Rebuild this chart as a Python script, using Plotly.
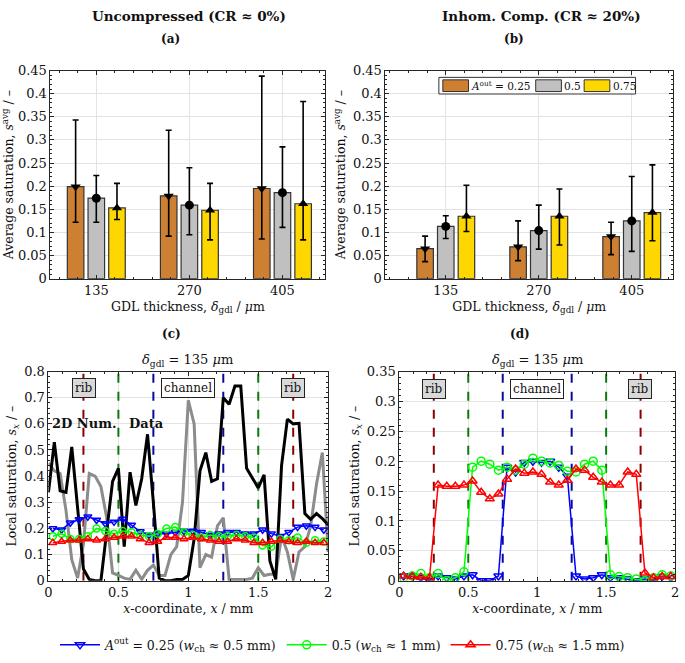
import plotly.graph_objects as go

# ---------------- data ----------------
groups = [135, 270, 405]
bar_names = ["0.25", "0.5", "0.75"]
bar_colors = ["#CD7F32", "#C0C0C0", "#FFD700"]
bar_symbols = ["triangle-down", "circle", "triangle-up"]
bar_offsets = [-30, 0, 30]

# (a) uncompressed
a_vals = [[0.199, 0.179, 0.195], [0.174, 0.159, 0.186], [0.153, 0.148, 0.162]]
a_lo = [[0.122, 0.092, 0.086], [0.122, 0.095, 0.111], [0.128, 0.084, 0.084]]
a_hi = [[0.343, 0.321, 0.438], [0.223, 0.240, 0.285], [0.206, 0.206, 0.383]]
# (b) inhomogeneous compression
b_vals = [[0.065, 0.069, 0.091], [0.113, 0.104, 0.125], [0.135, 0.135, 0.143]]
b_lo = [[0.037, 0.039, 0.052], [0.087, 0.064, 0.059], [0.102, 0.073, 0.082]]
b_hi = [[0.092, 0.125, 0.122], [0.136, 0.159, 0.221], [0.202, 0.194, 0.246]]

# (c) 2D numerical data (black, grey)
x_num = [k / 24 for k in range(49)]
black_num = [0.338, 0.53, 0.344, 0.338, 0.512, 0.28, 0.045, 0.005, 0.0, 0.0,
             0.19, 0.38, 0.43, 0.13, 0.415, 0.288, 0.39, 0.56, 0.30, 0.01,
             0.0, 0.0, 0.005, 0.005, 0.02, 0.16, 0.42, 0.49, 0.38, 0.39,
             0.70, 0.675, 0.745, 0.745, 0.43, 0.39, 0.355, 0.405, 0.076, 0.005,
             0.44, 0.618, 0.6, 0.602, 0.257, 0.235, 0.257, 0.238, 0.213]
grey_num = [0.45, 0.42, 0.41, 0.27, 0.08, 0.01, 0.14, 0.41, 0.40, 0.36,
            0.24, 0.03, 0.02, 0.01, 0.005, 0.04, 0.005, 0.04, 0.06, 0.02,
            0.02, 0.10, 0.13, 0.30, 0.69, 0.60, 0.05, 0.10, 0.09, 0.21,
            0.24, 0.005, 0.005, 0.005, 0.005, 0.01, 0.05, 0.02, 0.025, 0.025,
            0.17, 0.11, 0.005, 0.11, 0.13, 0.21, 0.37, 0.49, 0.11]

# pore-network profiles
x_pn = [0.03125 + k * 0.0625 for k in range(32)]
c_blue = [0.20, 0.195, 0.222, 0.234, 0.245, 0.232, 0.219, 0.225, 0.236, 0.213,
          0.188, 0.175, 0.18, 0.18, 0.185, 0.19, 0.19, 0.185, 0.175, 0.18,
          0.185, 0.185, 0.18, 0.18, 0.195, 0.18, 0.17, 0.185, 0.205, 0.21,
          0.205, 0.195]
c_green = [0.17, 0.18, 0.16, 0.16, 0.17, 0.20, 0.19, 0.18, 0.19, 0.185,
           0.175, 0.17, 0.18, 0.20, 0.205, 0.185, 0.175, 0.165, 0.175, 0.17,
           0.17, 0.175, 0.17, 0.165, 0.135, 0.13, 0.16, 0.155, 0.165, 0.145,
           0.155, 0.15]
c_red = [0.145, 0.15, 0.155, 0.155, 0.16, 0.155, 0.16, 0.165, 0.17, 0.17,
         0.16, 0.145, 0.15, 0.165, 0.165, 0.16, 0.165, 0.16, 0.155, 0.15,
         0.15, 0.16, 0.155, 0.145, 0.145, 0.15, 0.155, 0.15, 0.145, 0.15,
         0.145, 0.145]
d_blue = [0.008, 0.008, 0.005, 0.0, 0.008, 0.005, 0.003, 0.008, 0.01, 0.0,
          0.0, 0.008, 0.19, 0.182, 0.198, 0.2, 0.198, 0.2, 0.19, 0.175,
          0.008, 0.003, 0.005, 0.01, 0.005, 0.005, 0.003, 0.0, 0.003, 0.0,
          0.007, 0.005]
d_green = [0.005, 0.008, 0.012, 0.005, 0.012, 0.0, 0.005, 0.015, 0.19, 0.2,
           0.195, 0.185, 0.19, 0.185, 0.195, 0.205, 0.2, 0.197, 0.193, 0.183,
           0.182, 0.195, 0.2, 0.185, 0.01, 0.007, 0.005, 0.003, 0.0, 0.005,
           0.01, 0.008]
d_red = [0.008, 0.007, 0.006, 0.005, 0.16, 0.158, 0.158, 0.16, 0.167, 0.148,
         0.137, 0.145, 0.17, 0.187, 0.18, 0.182, 0.178, 0.165, 0.16, 0.168,
         0.187, 0.185, 0.173, 0.165, 0.16, 0.16, 0.182, 0.178, 0.013, 0.005,
         0.007, 0.007]

boundaries = [0.25, 0.5, 0.75, 1.25, 1.5, 1.75]
boundary_colors = ["#8B0000", "#0B7A0B", "#0A0A9A", "#0A0A9A", "#0B7A0B", "#8B0000"]

legend_labels = ["<i>A</i><sup>out</sup> = 0.25 (<i>w</i><sub>ch</sub> ≈ 0.5 mm)",
                 "0.5 (<i>w</i><sub>ch</sub> ≈ 1 mm)",
                 "0.75 (<i>w</i><sub>ch</sub> ≈ 1.5 mm)"]
line_colors = ["#0000FF", "#00FF00", "#FF0000"]
line_symbols = ["triangle-down-open", "circle-open", "triangle-up-open"]

FONT = "DejaVu Serif"
W, H = 685, 663

def px(x):
    return x / W

def py(y):
    return 1 - y / H

fig = go.Figure()

# ---------------- bars ----------------
for (vals, lo, hi, xa, ya) in [(a_vals, a_lo, a_hi, "x", "y"), (b_vals, b_lo, b_hi, "x2", "y2")]:
    for i in range(3):
        xs = [g + bar_offsets[i] for g in groups]
        fig.add_trace(go.Bar(
            x=xs, y=vals[i], width=24, xaxis=xa, yaxis=ya, showlegend=False,
            marker=dict(color=bar_colors[i], line=dict(color="#333333", width=1.2)),
            error_y=dict(type="data", symmetric=False,
                         array=[h - v for h, v in zip(hi[i], vals[i])],
                         arrayminus=[v - l for v, l in zip(vals[i], lo[i])],
                         color="black", thickness=1.6, width=3)))
        fig.add_trace(go.Scatter(
            x=xs, y=vals[i], mode="markers", xaxis=xa, yaxis=ya, showlegend=False,
            marker=dict(symbol=bar_symbols[i], color="black", size=9)))

# ---------------- boundary lines ----------------
for xa, ya, top in [("x3", "y3", 0.8), ("x4", "y4", 0.35)]:
    for b, col in zip(boundaries, boundary_colors):
        fig.add_trace(go.Scatter(x=[b, b], y=[0, top], mode="lines", xaxis=xa, yaxis=ya,
                                 showlegend=False, hoverinfo="skip",
                                 line=dict(color=col, width=2, dash="dash")))

# ---------------- (c) numerical data ----------------
fig.add_trace(go.Scatter(x=x_num, y=grey_num, mode="lines", xaxis="x3", yaxis="y3",
                         showlegend=False, line=dict(color="#8C8C8C", width=3)))
fig.add_trace(go.Scatter(x=x_num, y=black_num, mode="lines", xaxis="x3", yaxis="y3",
                         showlegend=False, line=dict(color="#000000", width=3)))

# ---------------- profiles ----------------
c_series = [c_blue, c_green, c_red]
d_series = [d_blue, d_green, d_red]
for i in range(3):
    fig.add_trace(go.Scatter(x=x_pn, y=c_series[i], mode="lines+markers", xaxis="x3", yaxis="y3",
                             showlegend=False,
                             line=dict(color=line_colors[i], width=1.5),
                             marker=dict(symbol=line_symbols[i], size=7, color=line_colors[i],
                                         line=dict(width=1.5))))
for i in range(3):
    fig.add_trace(go.Scatter(x=x_pn, y=d_series[i], mode="lines+markers", xaxis="x4", yaxis="y4",
                             name=legend_labels[i], showlegend=True,
                             line=dict(color=line_colors[i], width=1.5),
                             marker=dict(symbol=line_symbols[i], size=8, color=line_colors[i],
                                         line=dict(width=1.5))))

# ---------------- axes ----------------
axis_common = dict(showline=True, linecolor="#262626", linewidth=1, mirror="ticks",
                   ticks="inside", ticklen=4, tickcolor="#262626",
                   showgrid=True, gridcolor="#E3E3E3", gridwidth=1, zeroline=False,
                   tickfont=dict(family=FONT, size=13, color="#111"),
                   title_font=dict(family=FONT, size=12.5, color="#111"))

ytitle_ab = "Average saturation, <i>s</i><sup>avg</sup> / –"
xtitle_ab = "GDL thickness, <i>δ</i><sub>gdl</sub> / <i>μ</i>m"
ytitle_cd = "Local saturation, <i>s</i><sub><i>x</i></sub> / –"
xtitle_cd = "<i>x</i>-coordinate, <i>x</i> / mm"

fig.update_layout(
    xaxis=dict(axis_common, domain=[px(47), px(325)], range=[68.5, 467], anchor="y",
               tickvals=groups, title=dict(text=xtitle_ab, standoff=4),
               minor=dict(ticks="inside", ticklen=2, dtick=27, tickcolor="#262626", showgrid=False)),
    yaxis=dict(axis_common, domain=[py(278), py(65)], range=[0, 0.45], anchor="x", dtick=0.05,
               title=dict(text=ytitle_ab, standoff=4),
               minor=dict(ticks="inside", ticklen=2, dtick=0.01, tickcolor="#262626", showgrid=False)),
    xaxis2=dict(axis_common, domain=[px(386), px(677)], range=[47.5, 465], anchor="y2",
                tickvals=groups, title=dict(text=xtitle_ab, standoff=4),
                minor=dict(ticks="inside", ticklen=2, dtick=27, tickcolor="#262626", showgrid=False)),
    yaxis2=dict(axis_common, domain=[py(278), py(65)], range=[0, 0.45], anchor="x2", dtick=0.05,
                title=dict(text=ytitle_ab, standoff=4),
                minor=dict(ticks="inside", ticklen=2, dtick=0.01, tickcolor="#262626", showgrid=False)),
    xaxis3=dict(axis_common, domain=[px(45), px(328)], range=[0, 2], anchor="y3", dtick=0.5,
                title=dict(text=xtitle_cd, standoff=4),
                minor=dict(ticks="inside", ticklen=2, dtick=0.1, tickcolor="#262626", showgrid=False)),
    yaxis3=dict(axis_common, domain=[py(587), py(373)], range=[0, 0.8], anchor="x3", dtick=0.1,
                title=dict(text=ytitle_cd, standoff=4),
                minor=dict(ticks="inside", ticklen=2, dtick=0.02, tickcolor="#262626", showgrid=False)),
    xaxis4=dict(axis_common, domain=[px(400), px(679)], range=[0, 2], anchor="y4", dtick=0.5,
                title=dict(text=xtitle_cd, standoff=4), ticklabeloverflow="allow",
                minor=dict(ticks="inside", ticklen=2, dtick=0.1, tickcolor="#262626", showgrid=False)),
    yaxis4=dict(axis_common, domain=[py(587), py(373)], range=[0, 0.35], anchor="x4", dtick=0.05,
                title=dict(text=ytitle_cd, standoff=4),
                minor=dict(ticks="inside", ticklen=2, dtick=0.01, tickcolor="#262626", showgrid=False)),
)

# ---------------- annotations ----------------
ann = []
def text(x, y, t, size=13, bold=False, **kw):
    d = dict(x=x, y=y, xref="paper", yref="paper", text=("<b>%s</b>" % t) if bold else t,
             showarrow=False, font=dict(family=FONT, size=size, color="#111"),
             xanchor="center", yanchor="middle")
    d.update(kw)
    ann.append(d)

text(px(187), py(9), "Uncompressed (CR ≈ 0%)", size=13.5, bold=True)
text(px(544), py(9), "Inhom. Comp. (CR ≈ 20%)", size=13.5, bold=True)
text(px(168), py(33), "(a)", size=12, bold=True)
text(px(516), py(33), "(b)", size=12, bold=True)
text(px(169), py(335), "(c)", size=12, bold=True)
text(px(522), py(335), "(d)", size=12, bold=True)
text(px(186), py(362), "<i>δ</i><sub>gdl</sub> = 135 <i>μ</i>m", size=13)
text(px(540), py(362), "<i>δ</i><sub>gdl</sub> = 135 <i>μ</i>m", size=13)

# region labels
for xa, ya, ylab in [("x3", "y3", 0.736), ("x4", "y4", 0.321)]:
    for xv, lab, bg in [(0.255, "rib", "#D9D9D9"), (1.0, "channel", "#FFFFFF"), (1.745, "rib", "#D9D9D9")]:
        ann.append(dict(x=xv, y=ylab, xref=xa, yref=ya, text=lab, showarrow=False,
                        font=dict(family=FONT, size=12, color="#111"),
                        bgcolor=bg, bordercolor="#222", borderwidth=1, borderpad=2))
# text block: "2D Num." left of the x = 0.5 boundary, "Data" right of it
ann.append(dict(x=0.5, y=0.603, xref="x3", yref="y3", text="<b>2D Num.</b>", showarrow=False,
                xanchor="right", font=dict(family=FONT, size=13, color="#111")))
ann.append(dict(x=0.565, y=0.603, xref="x3", yref="y3", text="<b>Data</b>", showarrow=False,
                xanchor="left", font=dict(family=FONT, size=13, color="#111")))

# bar legend (panel b)
shapes = [dict(type="rect", xref="paper", yref="paper", x0=px(440), x1=px(639), y0=py(89), y1=py(72),
               fillcolor="white", line=dict(color="#333", width=1))]
sw = [(444, 470), (538, 564), (587, 613)]
lab_x = [471, 565, 614]
lab_t = ["<i>A</i><sup>out</sup> = 0.25", "0.5", "0.75"]
for i in range(3):
    shapes.append(dict(type="rect", xref="paper", yref="paper", x0=px(sw[i][0]), x1=px(sw[i][1]),
                       y0=py(86.5), y1=py(74.5), fillcolor=bar_colors[i],
                       line=dict(color="#333", width=1)))
    text(px(lab_x[i]), py(80.5), lab_t[i], size=10.5, xanchor="left")

fig.update_layout(
    annotations=ann, shapes=shapes,
    width=W, height=H, margin=dict(l=0, r=0, t=0, b=0),
    paper_bgcolor="white", plot_bgcolor="white",
    font=dict(family=FONT, size=13, color="#111"),
    legend=dict(orientation="h", x=0.5, xanchor="center", y=py(653), yanchor="middle",
                font=dict(family=FONT, size=12.5, color="#111"), itemwidth=40,
                bgcolor="rgba(0,0,0,0)", tracegroupgap=0),
)

fig.write_html("out.html", config={"displayModeBar": False},
               post_script="document.body.style.margin='0';document.body.style.overflow='hidden';")
